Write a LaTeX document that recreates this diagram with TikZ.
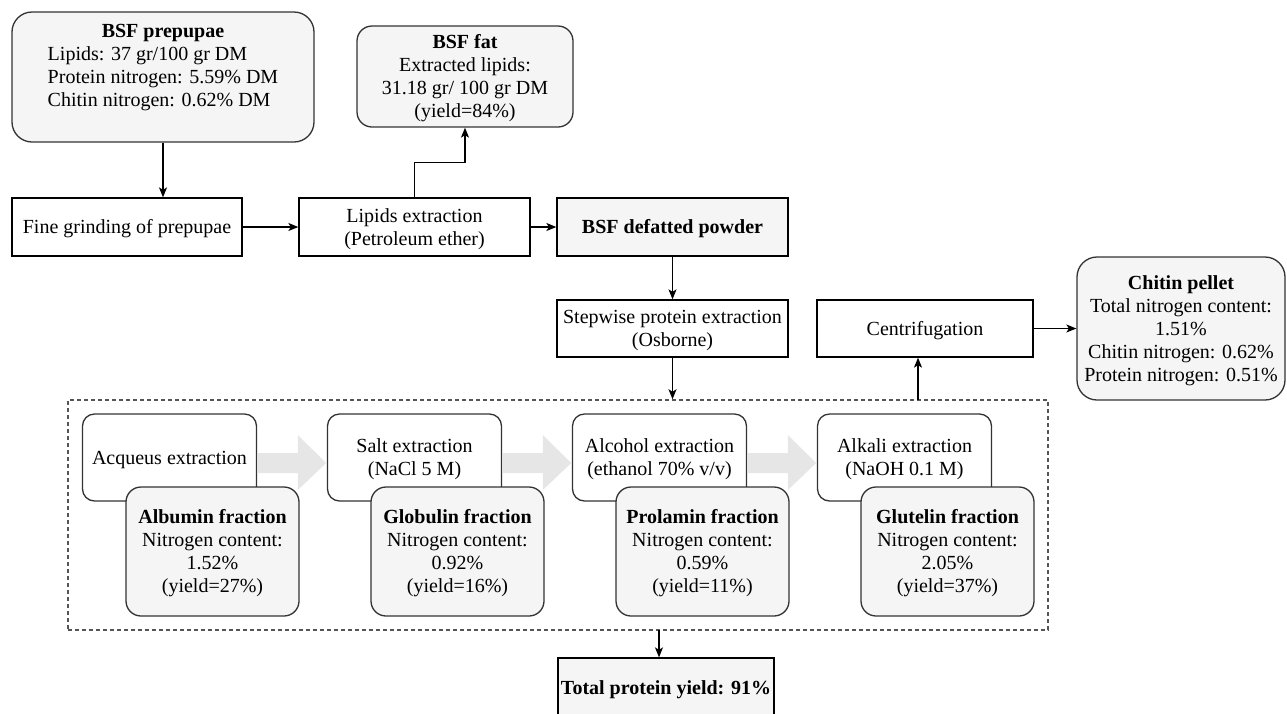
\documentclass[tikz,border=0pt]{standalone}
\usepackage{fontspec}
\setmainfont{Liberation Serif}
\usetikzlibrary{arrows.meta,calc}
\definecolor{boxfill}{HTML}{F5F5F5}
\definecolor{boxline}{HTML}{333333}
\definecolor{framegray}{HTML}{555555}
\definecolor{arrowgray}{HTML}{E6E6E6}
% fixed line box for every text row (height 18pt, depth 5pt)
\newcommand{\rowst}{\rule[-5pt]{0pt}{23pt}}
\tikzset{
  sqbox/.style={draw=black, line width=1.3pt, fill=white, inner sep=0pt, align=center},
  rbox/.style={draw=boxline, line width=1.3pt, rounded corners=15pt, fill=white, inner sep=0pt, align=center},
  graybox/.style={rbox, fill=boxfill},
  flow/.style={draw=black, line width=1.3pt, -{Stealth[length=10pt,width=8pt,inset=2.5pt]}},
  groupframe/.style={draw=framegray, line width=1.5pt, dash pattern=on 4pt off 3pt, inner sep=0pt},
  bigarrow/.style={fill=arrowgray},
  extbox/.style={rbox, rounded corners=12pt, minimum width=174pt, minimum height=87pt},
  fracbox/.style={graybox, minimum width=173pt, minimum height=129pt}
}
\begin{document}
\begin{tikzpicture}[x=1pt, y=-1pt, every node/.style={font=\fontsize{20}{23}\selectfont}]
\useasboundingbox (0,0) rectangle (1287,713);

% raw material and lipid removal
\node[graybox, rounded corners=20pt, minimum width=302pt, minimum height=130pt] (prepupae) at (163,77) {};
\node[anchor=north, inner sep=0pt] (prepupaetxt) at (163,19) {%
  \renewcommand{\arraystretch}{0}%
  \begin{tabular}{@{}l@{}}
  \multicolumn{1}{@{}c@{}}{\rowst\textbf{BSF prepupae}}\\
  \rowst Lipids: 37 gr/100 gr DM\\
  \rowst Protein nitrogen: 5.59\% DM\\
  \rowst Chitin nitrogen: 0.62\% DM
  \end{tabular}};
\node[graybox, minimum width=216pt, minimum height=101pt] (fat) at (465,76.5)
  {\rowst\textbf{BSF fat}\\\rowst Extracted lipids:\\\rowst 31.18 gr/ 100 gr DM\\\rowst (yield=84\%)};
\node[sqbox, minimum width=230pt, minimum height=58pt] (grinding) at (127,227) {\rowst Fine grinding of prepupae};
\node[sqbox, minimum width=231pt, minimum height=58pt] (lipids) at (414.5,227) {\rowst Lipids extraction\\\rowst (Petroleum ether)};
\node[sqbox, fill=boxfill, minimum width=231pt, minimum height=58pt] (defatted) at (672.5,227) {\rowst\textbf{BSF defatted powder}};

% protein extraction
\node[sqbox, minimum width=231pt, minimum height=57pt] (stepwise) at (672.5,328.5) {\rowst Stepwise protein extraction\\\rowst (Osborne)};
\node[sqbox, minimum width=216pt, minimum height=57pt] (centrif) at (925,328.5) {\rowst Centrifugation};
\node[graybox, rounded corners=20pt, minimum width=208pt, minimum height=143pt] (chitin) at (1181,328.5)
  {\rowst\textbf{Chitin pellet}\\\rowst Total nitrogen content:\\\rowst 1.51\%\\\rowst Chitin nitrogen: 0.62\%\\\rowst Protein nitrogen: 0.51\%};

\node[groupframe, minimum width=980pt, minimum height=230pt] (group) at (558,515) {};

\node[extbox] (acq) at (169.5,457.5) {\rowst Acqueus extraction};
\node[extbox] (salt) at (414.5,457.5) {\rowst Salt extraction\\\rowst (NaCl 5 M)};
\node[extbox] (alc) at (659.5,457.5) {\rowst Alcohol extraction\\\rowst (ethanol 70\% v/v)};
\node[extbox] (alk) at (904.5,457.5) {\rowst Alkali extraction\\\rowst (NaOH 0.1 M)};

% wide grey arrows between the extraction steps
\foreach \a/\b in {acq/salt, salt/alc, alc/alk}{
  \fill[bigarrow] ($(\a.east)+(0.7,-4.5)$) -- ($(\b.west)+(-29,-4.5)$) -- ($(\b.west)+(-29,-22.5)$)
    -- ($(\b.west)+(-0.7,5.5)$) -- ($(\b.west)+(-29,32.5)$) -- ($(\b.west)+(-29,15.5)$)
    -- ($(\a.east)+(0.7,15.5)$) -- cycle;
}

\node[fracbox] (albumin) at (212.5,551.5) {\rowst\textbf{Albumin fraction}\\\rowst Nitrogen content:\\\rowst 1.52\%\\\rowst (yield=27\%)};
\node[fracbox] (globulin) at (457.5,551.5) {\rowst\textbf{Globulin fraction}\\\rowst Nitrogen content:\\\rowst 0.92\%\\\rowst (yield=16\%)};
\node[fracbox] (prolamin) at (702.5,551.5) {\rowst\textbf{Prolamin fraction}\\\rowst Nitrogen content:\\\rowst 0.59\%\\\rowst (yield=11\%)};
\node[fracbox] (glutelin) at (947.5,551.5) {\rowst\textbf{Glutelin fraction}\\\rowst Nitrogen content:\\\rowst 2.05\%\\\rowst (yield=37\%)};

\node[sqbox, fill=boxfill, minimum width=216pt, minimum height=60pt] (total) at (666,688) {\rowst\textbf{Total protein yield: 91\%}};

% connectors
\coordinate (cup) at (918,400);
\coordinate (gdown) at (659,630);
\draw[flow] (prepupae.south) -- (prepupae.south |- grinding.north);
\draw[flow] (grinding.east) -- (lipids.west);
\draw[flow] (lipids.east) -- (defatted.west);
\draw[flow] (lipids.north) -- ++(0,-35) -| (fat.south);
\draw[flow] (defatted.south) -- (stepwise.north);
\draw[flow] (stepwise.south) -- (stepwise.south |- group.north);
\draw[flow] (cup) -- (cup |- centrif.south);
\draw[flow] (centrif.east) -- (chitin.west);
\draw[flow] (gdown) -- (gdown |- total.north);
\end{tikzpicture}
\end{document}
